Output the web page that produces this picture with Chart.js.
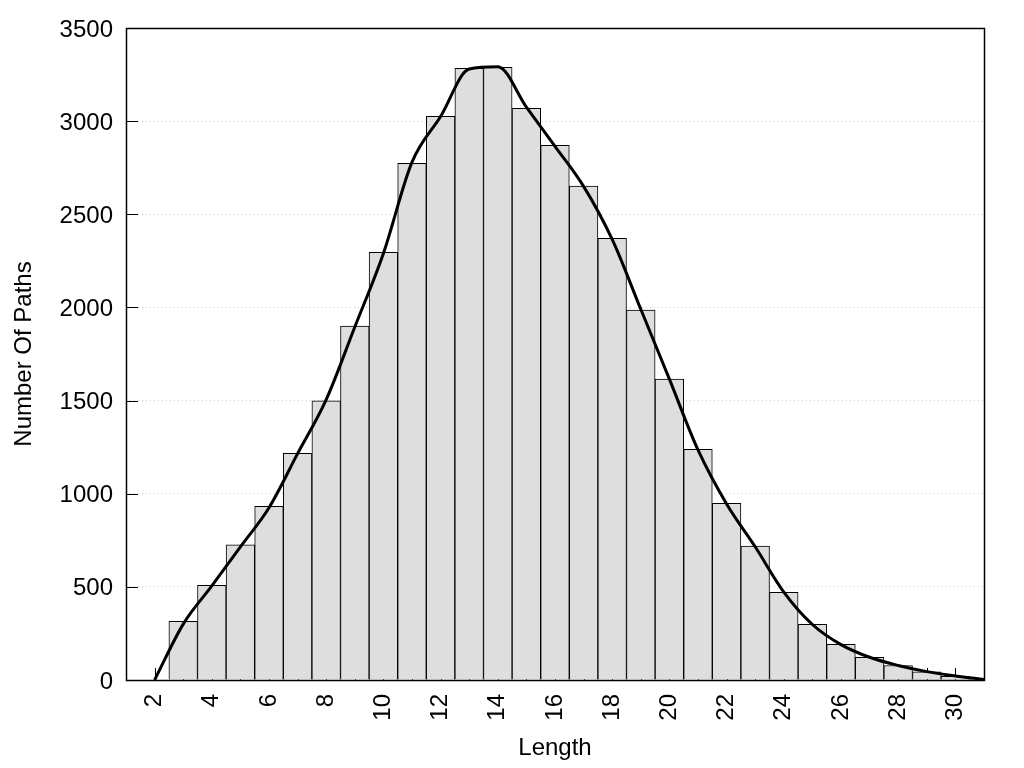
<!DOCTYPE html>
<html>
<head>
<meta charset="utf-8">
<script src="https://cdn.jsdelivr.net/npm/chart.js@4/dist/chart.umd.min.js"></script>
<style>
  html, body { margin: 0; padding: 0; background: #ffffff; }
  #c { display: block; }
</style>
</head>
<body>
<canvas id="c" width="1024" height="768"></canvas>
<script>
// ---- data ----
const barLengths = [3,4,5,6,7,8,9,10,11,12,13,14,15,16,17,18,19,20,21,22,23,24,25,26,27,28,29,30,31];
const barCounts  = [315,508,725,932,1217,1498,1900,2296,2774,3026,3284,3289,3069,2870,2652,2371,1986,1616,1238,948,719,471,299,192,122,78,44,20,8];
const curveLengths = [2,3,4,5,6,7,8,9,10,11,12,13,14,15,16,17,18,19,20,21,22,23,24,25,26,27,28,29,30,31];
const curveCounts  = [0,300,505,715,925,1215,1505,1895,2290,2780,3025,3280,3292,3075,2865,2650,2365,1990,1615,1235,945,715,472,298,190,122,78,45,22,3];
const xTickLabels = [2,4,6,8,10,12,14,16,18,20,22,24,26,28,30];
const xMinorTicks = [2,3,4,5,6,7,8,9,10,11,12,13,14,15,16,17,18,19,20,21,22,23,24,25,26,27,28,29,30];
const yTickValues = [0,500,1000,1500,2000,2500,3000,3500];
const xRange = [1, 31];
const yRange = [0, 3500];

const FONT = "'Liberation Sans', Arial, sans-serif";
const FS = 24;

const innerTicks = {
  id: 'innerTicks',
  beforeDatasetsDraw(chart) {
    const ctx = chart.ctx, a = chart.chartArea;
    const xs = chart.scales.x, ys = chart.scales.y;
    ctx.save();
    ctx.strokeStyle = '#000';
    ctx.lineWidth = 1;
    ctx.beginPath();
    yTickValues.forEach(v => {
      const y = Math.round(ys.getPixelForValue(v)) + 0.5;
      ctx.moveTo(a.left, y); ctx.lineTo(a.left + 12, y);
    });
    xMinorTicks.forEach(v => {
      const x = Math.round(xs.getPixelForValue(v)) + 0.5;
      ctx.moveTo(x, a.bottom); ctx.lineTo(x, a.bottom - 12);
    });
    ctx.stroke();
    ctx.restore();
  },
  afterDraw(chart) {
    const ctx = chart.ctx, a = chart.chartArea;
    ctx.save();
    ctx.strokeStyle = '#000';
    ctx.lineWidth = 1.5;
    ctx.strokeRect(Math.round(a.left) + 0.5, Math.round(a.top) + 0.5,
                   Math.round(a.right - a.left), Math.round(a.bottom - a.top));
    ctx.restore();
  }
};

new Chart(document.getElementById('c'), {
  type: 'bar',
  data: {
    datasets: [
      {
        type: 'line',
        data: curveLengths.map((x, i) => ({ x: x, y: curveCounts[i] })),
        borderColor: '#000000',
        borderWidth: 3,
        pointRadius: 0,
        cubicInterpolationMode: 'monotone',
        fill: false,
        order: 0
      },
      {
        type: 'bar',
        data: barLengths.map((x, i) => ({ x: x, y: barCounts[i] })),
        backgroundColor: '#dedede',
        borderColor: '#000000',
        borderWidth: 1,
        barPercentage: 1.0,
        categoryPercentage: 1.0,
        order: 1
      }
    ]
  },
  options: {
    responsive: false,
    animation: false,
    devicePixelRatio: 1,
    layout: { padding: { left: 0, top: 28, right: 40, bottom: 0 } },
    plugins: { legend: { display: false }, tooltip: { enabled: false } },
    scales: {
      x: {
        type: 'linear',
        min: xRange[0],
        max: xRange[1],
        offset: false,
        grid: { display: false, offset: false, drawTicks: false },
        border: { display: false },
        afterBuildTicks(scale) { scale.ticks = xTickLabels.map(v => ({ value: v })); },
        afterFit(scale) { scale.height = 88; },
        ticks: {
          autoSkip: false,
          minRotation: 90,
          maxRotation: 90,
          padding: 14,
          color: '#000',
          font: { family: FONT, size: FS },
          callback: v => String(v)
        },
        title: {
          display: true,
          text: 'Length',
          color: '#000',
          font: { family: FONT, size: FS },
          padding: { top: 0, bottom: 5 }
        }
      },
      y: {
        type: 'linear',
        min: yRange[0],
        max: yRange[1],
        grid: { color: '#cccccc', drawTicks: false, lineWidth: 1 },
        border: { display: false, dash: [1, 3] },
        afterBuildTicks(scale) { scale.ticks = yTickValues.map(v => ({ value: v })); },
        afterFit(scale) { scale.width = 126; },
        ticks: {
          padding: 13,
          labelOffset: 2,
          color: '#000',
          font: { family: FONT, size: FS },
          callback: v => String(v)
        },
        title: {
          display: true,
          text: 'Number Of Paths',
          color: '#000',
          font: { family: FONT, size: FS },
          padding: { top: 10, bottom: 0 }
        }
      }
    }
  },
  plugins: [innerTicks]
});
</script>
</body>
</html>
